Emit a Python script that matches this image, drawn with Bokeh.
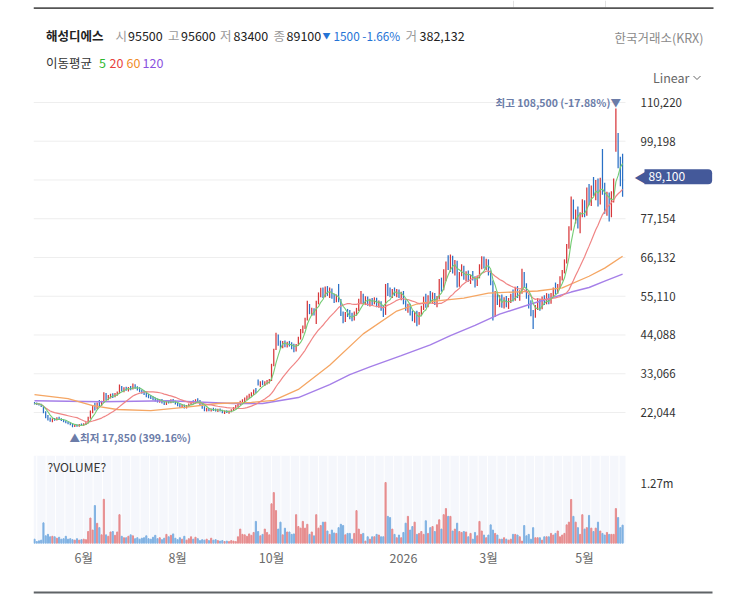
import numpy as np
import pandas as pd
from bokeh.plotting import figure
from bokeh.layouts import column
from bokeh.models import ColumnDataSource, Range1d, FixedTicker, NumeralTickFormatter, Label
from bokeh.core.properties import value
from bokeh.embed import file_html
from bokeh.resources import INLINE

FONT = "Noto Sans CJK KR"

# ---------------- data (prices in thousand KRW, volume in thousand shares) ----------------
open_k = [
    24.8, 24.6, 24.5, 24.3, 23.8, 22.1, 20.8, 20.2, 19.6, 20.1,
    20.0, 20.5, 20.2, 19.8, 19.5, 19.2, 18.9, 18.6, 18.2, 18.4,
    18.2, 18.6, 18.5, 18.8, 19.0, 20.5, 22.2, 23.6, 23.2, 24.6,
    24.2, 25.0, 27.2, 26.2, 26.6, 27.0, 26.7, 27.3, 27.7, 29.3,
    28.4, 28.9, 28.6, 29.0, 28.8, 29.8, 29.1, 28.7, 28.2, 27.7,
    27.4, 26.8, 26.5, 26.2, 25.8, 25.5, 25.2, 25.6, 24.9, 24.5,
    25.1, 25.0, 25.5, 25.1, 24.6, 24.1, 23.8, 24.1, 23.5, 24.0,
    24.4, 25.1, 24.8, 25.5, 25.3, 24.3, 23.4, 22.7, 23.1, 22.6,
    22.9, 22.8, 22.6, 22.9, 22.5, 22.1, 22.3, 22.0, 22.4, 22.8,
    23.3, 24.0, 24.5, 25.1, 25.4, 26.0, 26.5, 27.1, 27.3, 28.3,
    30.4, 29.9, 30.6, 30.1, 30.5, 30.9, 31.2, 35.4, 40.0, 43.6,
    41.6, 41.0, 41.9, 41.1, 41.8, 41.3, 40.5, 39.8, 41.2, 43.2,
    45.2, 46.2, 48.5, 52.6, 50.6, 51.2, 48.0, 53.2, 55.6, 56.8,
    55.2, 57.4, 55.8, 57.0, 54.9, 53.8, 55.2, 54.0, 50.2, 48.1,
    50.0, 49.8, 49.1, 48.5, 50.4, 51.2, 53.8, 55.0, 53.6, 54.6,
    53.0, 54.0, 53.2, 54.3, 52.5, 53.4, 51.4, 50.0, 57.8, 56.0,
    55.4, 56.8, 55.8, 56.6, 55.2, 55.9, 53.4, 51.6, 52.5, 50.2,
    48.6, 50.2, 47.4, 50.0, 51.8, 54.2, 52.5, 54.8, 53.8, 55.6,
    53.2, 54.8, 59.2, 57.2, 62.0, 64.2, 63.2, 66.2, 62.4, 64.6,
    58.6, 61.4, 63.4, 60.4, 61.8, 59.8, 60.8, 60.2, 58.4, 60.6,
    63.6, 65.2, 63.6, 64.8, 61.8, 58.8, 50.4, 55.6, 53.4, 54.8,
    52.4, 54.2, 52.6, 54.0, 55.2, 54.2, 57.2, 55.4, 56.2, 61.6,
    58.2, 55.0, 52.4, 50.2, 49.4, 52.0, 53.8, 51.8, 54.4, 53.2,
    55.4, 53.4, 55.6, 57.0, 56.2, 58.2, 60.2, 62.0, 64.8, 69.2,
    74.2, 82.0, 78.2, 79.2, 75.2, 78.4, 81.8, 78.6, 85.2, 82.4,
    85.8, 84.6, 87.4, 81.8, 87.6, 86.4, 80.0, 83.6, 78.4, 84.2,
    96.4, 101.0, 92.4, 95.5,
]
high_k = [
    25.0, 24.9, 24.7, 24.5, 23.9, 22.4, 21.3, 20.6, 20.4, 20.5,
    20.7, 20.8, 20.4, 20.1, 19.8, 19.5, 19.2, 18.9, 18.6, 18.7,
    18.8, 18.9, 19.0, 19.3, 20.8, 22.6, 24.2, 24.8, 24.9, 25.6,
    25.4, 27.8, 27.6, 27.0, 27.4, 27.5, 27.6, 28.0, 30.0, 29.6,
    29.2, 29.4, 29.3, 29.6, 30.3, 30.1, 29.5, 29.2, 28.6, 28.2,
    27.8, 27.3, 27.0, 26.7, 26.3, 26.0, 25.9, 25.9, 25.3, 25.4,
    25.6, 25.8, 25.9, 25.4, 24.9, 24.5, 24.4, 24.3, 24.2, 24.6,
    25.3, 25.5, 25.8, 26.1, 25.6, 24.6, 23.8, 23.4, 23.3, 23.2,
    23.4, 23.2, 23.1, 23.2, 22.8, 22.6, 22.7, 22.6, 23.0, 23.6,
    24.2, 24.8, 25.4, 25.8, 26.3, 26.9, 27.4, 27.8, 28.6, 29.0,
    31.4, 30.9, 31.2, 30.9, 31.3, 31.6, 35.9, 40.2, 44.7, 44.2,
    42.5, 42.4, 42.5, 42.2, 42.4, 42.0, 41.6, 41.5, 43.6, 45.8,
    46.8, 49.0, 53.8, 52.9, 51.8, 51.7, 53.8, 56.2, 57.5, 57.6,
    57.9, 58.0, 57.6, 57.3, 55.8, 55.6, 58.6, 54.3, 50.8, 50.6,
    51.5, 51.2, 50.4, 50.8, 51.8, 54.4, 56.6, 55.8, 55.1, 55.0,
    54.4, 54.6, 54.8, 54.7, 53.9, 53.7, 52.4, 58.6, 58.9, 57.6,
    57.2, 57.6, 57.2, 57.0, 56.4, 56.6, 54.0, 53.0, 53.0, 51.0,
    50.8, 51.0, 50.6, 52.4, 55.0, 55.8, 55.4, 56.6, 56.2, 56.0,
    55.2, 60.0, 60.4, 62.8, 65.0, 66.8, 67.0, 66.6, 65.4, 65.2,
    62.0, 64.2, 63.8, 62.2, 62.4, 61.2, 62.3, 60.8, 61.0, 64.2,
    66.5, 66.4, 65.8, 65.6, 62.4, 59.6, 56.6, 56.4, 55.4, 55.6,
    54.8, 55.2, 54.6, 55.8, 57.0, 57.8, 58.0, 56.8, 62.9, 62.0,
    58.8, 55.6, 54.0, 51.2, 52.6, 54.6, 54.4, 55.0, 55.4, 56.0,
    55.8, 56.0, 57.6, 59.0, 58.6, 60.8, 62.6, 65.6, 70.0, 75.0,
    83.5, 82.6, 79.8, 80.6, 79.0, 82.7, 82.4, 86.0, 87.0, 86.6,
    89.0, 88.2, 88.6, 88.8, 97.0, 87.4, 84.8, 84.6, 85.0, 88.6,
    108.5, 101.5, 94.8, 95.6,
]
low_k = [
    24.3, 24.2, 24.0, 23.6, 21.8, 20.4, 19.8, 19.4, 19.3, 19.7,
    19.8, 20.0, 19.6, 19.3, 19.0, 18.7, 18.4, 17.85, 17.9, 18.0,
    18.0, 18.2, 18.3, 18.5, 18.9, 20.3, 21.8, 22.6, 23.0, 23.8,
    23.9, 24.8, 25.6, 25.5, 26.0, 26.2, 26.4, 26.8, 27.4, 28.0,
    27.8, 28.2, 28.0, 28.4, 28.6, 28.8, 28.3, 27.9, 27.4, 27.0,
    26.4, 26.1, 25.9, 25.5, 25.2, 24.9, 24.8, 24.6, 24.2, 24.2,
    24.6, 24.7, 24.8, 24.3, 23.8, 23.4, 23.3, 23.2, 23.2, 23.7,
    24.2, 24.5, 24.6, 25.0, 24.0, 23.1, 22.4, 22.3, 22.4, 22.3,
    22.5, 22.3, 22.2, 22.3, 21.8, 21.6, 21.9, 21.7, 22.1, 22.5,
    23.0, 23.6, 24.1, 24.6, 25.0, 25.6, 26.0, 26.5, 27.0, 27.6,
    29.7, 29.3, 29.8, 29.6, 30.0, 30.3, 31.0, 35.2, 39.8, 41.0,
    40.2, 40.3, 40.6, 40.5, 40.8, 40.0, 39.2, 39.4, 41.0, 42.8,
    44.6, 45.8, 48.2, 50.0, 49.5, 49.6, 47.2, 52.8, 54.8, 54.6,
    54.8, 55.2, 54.6, 54.4, 53.2, 53.4, 53.4, 49.5, 47.4, 47.8,
    49.2, 48.6, 48.0, 48.2, 49.6, 50.9, 53.2, 53.0, 52.6, 52.4,
    52.2, 52.6, 52.8, 52.0, 51.8, 51.0, 49.2, 49.8, 55.2, 54.8,
    54.6, 55.2, 54.8, 54.6, 54.0, 52.8, 51.0, 50.4, 49.6, 48.0,
    47.6, 46.6, 47.0, 49.4, 51.2, 51.8, 52.0, 53.2, 53.0, 52.6,
    52.0, 54.2, 56.4, 56.8, 59.4, 62.6, 62.0, 61.6, 61.0, 57.6,
    57.8, 60.8, 59.8, 59.4, 59.2, 58.6, 59.6, 57.6, 58.0, 60.2,
    62.8, 63.0, 62.6, 61.0, 58.2, 48.2, 49.2, 52.6, 52.0, 51.8,
    51.6, 52.0, 51.5, 53.2, 53.6, 53.8, 54.6, 53.8, 55.8, 57.6,
    54.4, 51.6, 49.4, 45.8, 49.0, 51.2, 51.0, 51.4, 52.6, 52.8,
    52.8, 53.0, 54.8, 55.6, 55.8, 57.4, 59.6, 61.6, 64.4, 68.6,
    73.8, 77.0, 75.8, 74.4, 73.0, 77.6, 77.6, 78.0, 81.0, 80.8,
    83.6, 82.4, 80.6, 81.2, 84.0, 78.6, 78.0, 76.4, 77.6, 81.8,
    96.2, 91.5, 86.4, 83.4,
]
close_k = [
    24.6, 24.5, 24.3, 23.8, 22.1, 20.8, 20.2, 19.6, 20.1, 20.0,
    20.5, 20.2, 19.8, 19.5, 19.2, 18.9, 18.6, 18.2, 18.4, 18.2,
    18.6, 18.5, 18.8, 19.0, 20.5, 22.2, 23.6, 23.2, 24.6, 24.2,
    25.0, 27.2, 26.2, 26.6, 27.0, 26.7, 27.3, 27.7, 29.3, 28.4,
    28.9, 28.6, 29.0, 28.8, 29.8, 29.1, 28.7, 28.2, 27.7, 27.4,
    26.8, 26.5, 26.2, 25.8, 25.5, 25.2, 25.6, 24.9, 24.5, 25.1,
    25.0, 25.5, 25.1, 24.6, 24.1, 23.8, 24.1, 23.5, 24.0, 24.4,
    25.1, 24.8, 25.5, 25.3, 24.3, 23.4, 22.7, 23.1, 22.6, 22.9,
    22.8, 22.6, 22.9, 22.5, 22.1, 22.3, 22.0, 22.4, 22.8, 23.3,
    24.0, 24.5, 25.1, 25.4, 26.0, 26.5, 27.1, 27.3, 28.3, 28.1,
    29.9, 30.6, 30.1, 30.5, 30.9, 31.2, 35.4, 39.6, 43.6, 41.6,
    41.0, 41.9, 41.1, 41.8, 41.3, 40.5, 39.8, 41.2, 43.2, 45.2,
    46.2, 48.5, 52.6, 50.6, 51.2, 50.1, 53.2, 55.6, 56.8, 55.2,
    57.4, 55.8, 57.0, 54.9, 53.8, 55.2, 54.0, 50.2, 48.1, 50.0,
    49.8, 49.1, 48.5, 50.4, 51.2, 53.8, 55.0, 53.6, 54.6, 53.0,
    54.0, 53.2, 54.3, 52.5, 53.4, 51.4, 50.0, 57.8, 56.0, 55.4,
    56.8, 55.8, 56.6, 55.2, 55.9, 53.4, 51.6, 52.5, 50.2, 48.6,
    50.2, 47.4, 50.0, 51.8, 54.2, 52.5, 54.8, 53.8, 55.6, 53.2,
    54.8, 59.2, 57.2, 62.0, 64.2, 63.2, 66.2, 62.4, 64.6, 58.6,
    61.4, 63.4, 60.4, 61.8, 59.8, 60.8, 60.2, 58.4, 60.6, 63.6,
    65.2, 63.6, 64.8, 61.8, 58.8, 50.4, 55.6, 53.4, 54.8, 52.4,
    54.2, 52.6, 54.0, 55.2, 54.2, 57.2, 55.4, 56.2, 61.6, 58.2,
    55.0, 52.4, 50.2, 49.4, 52.0, 53.8, 51.8, 54.4, 53.2, 55.4,
    53.4, 55.6, 57.0, 56.2, 58.2, 60.2, 62.0, 64.8, 69.2, 74.2,
    82.0, 78.2, 79.2, 75.2, 78.4, 81.8, 78.6, 85.2, 82.4, 85.8,
    84.6, 87.4, 81.8, 87.6, 86.4, 80.0, 83.6, 78.4, 84.2, 87.6,
    104.4, 92.4, 90.6, 89.1,
]
volume_k = [
    90, 40, 55, 70, 430, 160, 190, 140, 150, 140,
    110, 130, 90, 100, 150, 90, 100, 80, 70, 100,
    70, 80, 90, 80, 250, 530, 280, 790, 420, 330,
    180, 920, 180, 150, 240, 250, 170, 240, 600, 150,
    120, 120, 150, 180, 160, 100, 120, 90, 110, 120,
    160, 100, 90, 130, 170, 100, 120, 80, 110, 190,
    140, 170, 200, 110, 80, 120, 90, 150, 70, 100,
    140, 90, 130, 100, 60, 80, 70, 90, 60, 110,
    70, 80, 60, 50, 60, 40, 50, 40, 60, 50,
    40, 140, 300, 190, 180, 150, 200, 170, 230, 460,
    250, 160, 190, 300, 230, 180, 826, 1060, 685, 300,
    445, 180, 318, 240, 240, 190, 200, 600, 353, 320,
    460, 320, 400, 190, 240, 160, 600, 320, 374, 445,
    445, 260, 190, 280, 220, 210, 330, 400, 374, 180,
    210, 210, 90, 210, 685, 300, 190, 210, 50, 140,
    90, 140, 140, 190, 176, 140, 140, 1270, 565, 540,
    300, 190, 120, 176, 120, 230, 423, 565, 280, 353,
    445, 190, 210, 250, 190, 473, 210, 330, 353, 250,
    390, 494, 300, 600, 727, 565, 565, 260, 300, 423,
    250, 230, 250, 240, 140, 210, 90, 230, 160, 460,
    260, 176, 120, 176, 388, 280, 210, 176, 90, 90,
    120, 90, 70, 90, 190, 190, 176, 140, 50, 374,
    160, 190, 90, 330, 120, 120, 120, 70, 140, 140,
    140, 210, 176, 210, 260, 140, 176, 210, 388, 445,
    917, 565, 445, 330, 190, 600, 300, 330, 585, 320,
    250, 320, 445, 260, 210, 176, 230, 190, 190, 190,
    727, 540, 330, 382.132,
]
ma60_index = [0, 15, 26, 37, 52, 67, 82, 97, 107, 118, 132, 147, 162, 171, 180, 192, 203, 214, 225, 236, 248, 255, 263]
ma60_k = [27.1, 26.0, 24.0, 22.9, 22.6, 23.5, 24.6, 24.9, 25.5, 28.6, 35.5, 44.4, 50.9, 52.9, 53.8, 54.6, 56.0, 56.3, 56.6, 57.5, 60.8, 63.1, 66.5]
ma120_index = [0, 30, 60, 89, 102, 118, 132, 141, 150, 164, 177, 186, 197, 208, 222, 231, 240, 248, 255, 263]
ma120_k = [25.4, 25.1, 25.4, 24.6, 24.6, 26.3, 30.0, 32.8, 35.0, 38.2, 41.3, 43.9, 46.8, 50.0, 52.9, 54.6, 56.3, 57.6, 59.4, 61.4]

month_tick_index = [22, 64, 106, 165, 203, 246]
month_tick_labels = ["6월", "8월", "10월", "2026", "3월", "5월"]
price_ticks = [22044, 33066, 44088, 55110, 66132, 77154, 88176, 99198, 110220]
volume_ticks = [1270000]
stock_name = "해성디에스"
exchange_name = "한국거래소(KRX)"

# ---------------- derived ----------------
o = np.array(open_k) * 1000
h = np.array(high_k) * 1000
l = np.array(low_k) * 1000
c = np.array(close_k) * 1000
vol = np.round(np.array(volume_k) * 1000)
n = len(c)
idx = np.arange(n)
up = c >= o
UP, DN = "#d7373a", "#2a71c6"
VUP, VDN = "#e68c8e", "#7fb1e2"
src = ColumnDataSource(dict(
    x=idx, o=o, h=h, l=l, c=c, vol=vol,
    color=[UP if u else DN for u in up],
    vcolor=[VUP if u else VDN for u in up],
))
ma5 = pd.Series(c).rolling(5, min_periods=1).mean().values
ma20 = pd.Series(c).rolling(20, min_periods=1).mean().values

# ---------------- geometry ----------------
W = 718
LEFT = 33                 # frame left edge (px)
PANE_R = 625              # right edge of the drawing panes (px)
X0, X1 = -0.45, 264.3     # bar index range across the panes
PX = (X1 - X0) / (PANE_R - LEFT)   # index units per pixel
XEND = X0 + (W - LEFT) * PX        # frames run to the right edge of the canvas


def xpix(px):
    return X0 + (px - LEFT) * PX


xr = Range1d(X0, XEND)
AXIS_STANDOFF = 640 - W   # labels sit left of the canvas edge, over the right gutter


def style_right_axis(a, size="11.5px"):
    a.axis_line_color = None
    a.major_tick_line_color = None
    a.minor_tick_line_color = None
    a.major_tick_out = 0
    a.major_tick_in = 0
    a.major_label_standoff = AXIS_STANDOFF
    a.major_label_text_font = FONT
    a.major_label_text_font_size = size
    a.major_label_text_color = "#333333"


# ---------------- header ----------------
hd = figure(width=W, height=95, x_range=Range1d(LEFT, W), y_range=Range1d(95, 0),
            x_axis_location=None, y_axis_location=None, min_border=0,
            min_border_left=LEFT, min_border_right=0,
            toolbar_location=None, output_backend="svg", title=None)
hd.grid.visible = False
hd.outline_line_color = None
hd.segment(x0=[513, 605], y0=[0, 0], x1=[513, 605], y1=[7, 7], line_color="#e2e2e2", line_width=1)
hd.line([LEFT, 713], [7.6, 7.6], line_color="#555555", line_width=1.6)


def htext(x, y, t, color="#222222", size="12.5px", style="normal", align="left"):
    hd.text(x=[x], y=[y], text=[t], text_color=color, text_font=value(FONT),
            text_font_size=size, text_font_style=style, text_align=align,
            text_baseline="middle")


chg = c[-1] - c[-2]
chg_pct = chg / c[-2] * 100
TY = 35
BLUE = "#2473d6"
htext(45.5, TY, stock_name, style="bold")
htext(115, TY, "시", color="#999999")
htext(127.5, TY, f"{round(o[-1]):d}")
htext(167.5, TY, "고", color="#999999")
htext(180.5, TY, f"{round(h[-1]):d}")
htext(219.5, TY, "저", color="#999999")
htext(233, TY, f"{round(l[-1]):d}")
htext(273, TY, "종", color="#999999")
htext(286, TY, f"{round(c[-1]):d}")
htext(322, TY, "▼", color=BLUE, size="8px")
htext(333, TY, f"{abs(round(chg)):d} {chg_pct:.2f}%", color=BLUE, size="11.8px")
htext(405, TY, "거", color="#999999")
htext(419, TY, f"{round(vol[-1]):,d}")
htext(703, 37, exchange_name, color="#8a8a8a", align="right")
MY = 62
htext(45.5, MY, "이동평균", color="#333333")
htext(98.5, MY, "5", color="#2eb82e")
htext(109, MY, "20", color="#e8413e")
htext(126, MY, "60", color="#f08c28")
htext(142, MY, "120", color="#8b52e0")
htext(652.5, 77, "Linear", color="#666666")
hd.line([693, 696.5, 700], [75.5, 79, 75.5], line_color="#666666", line_width=1)

# ---------------- price pane ----------------
p = figure(width=W, height=355, x_range=xr, y_range=Range1d(11237, 112199),
           output_backend="svg", toolbar_location=None, title=None,
           x_axis_location=None, y_axis_location="right",
           min_border_left=LEFT, min_border_right=0, min_border_top=0, min_border_bottom=0)
p.outline_line_color = None
p.grid.visible = False
ax = p.yaxis[0]
ax.ticker = FixedTicker(ticks=price_ticks)
ax.formatter = NumeralTickFormatter(format="0,0")
ax.major_label_overrides = {88176: ""}
style_right_axis(ax)

# horizontal guide lines at the axis ticks, limited to the pane
p.segment(x0=[X0] * len(price_ticks), y0=price_ticks, x1=[X1] * len(price_ticks), y1=price_ticks,
          line_color="#eeeeee", line_width=1)

p.segment(x0="x", y0="l", x1="x", y1="h", line_color="color", line_width=1.25, source=src)
p.line(ma120_index, np.array(ma120_k) * 1000, line_color="#a57fe8", line_width=1.4)
p.line(ma60_index, np.array(ma60_k) * 1000, line_color="#f5a663", line_width=1.3)
p.line(idx, ma20, line_color="#f08585", line_width=1.2)
p.line(idx, ma5, line_color="#74cc74", line_width=1.1)

ihi = int(np.argmax(h))
ilo = int(np.argmin(l))
hi_pct = (c[-1] / h[ihi] - 1) * 100
lo_pct = (c[-1] / l[ilo] - 1) * 100
LBL = "#6b7ca8"
p.text(x=[ihi], y=[h[ihi]], text=[f"최고 {h[ihi]:,.0f} ({hi_pct:.2f}%)▼"], text_align="right",
       text_baseline="middle", x_offset=5, y_offset=-6, text_font=value(FONT),
       text_font_size="10.5px", text_font_style="bold", text_color=LBL)
p.text(x=[ilo], y=[l[ilo]], text=[f"▲최저 {l[ilo]:,.0f} ({lo_pct:.2f}%)"], text_align="left",
       text_baseline="middle", x_offset=-3, y_offset=10, text_font=value(FONT),
       text_font_size="10.5px", text_font_style="bold", text_color=LBL)

BADGE = "#44599a"
p.add_layout(Label(x=xpix(640), y=c[-1], text="◀", text_color=BADGE, text_font=FONT,
                   text_font_size="13px", text_align="center", text_baseline="middle"))
p.add_layout(Label(x=xpix(644), y=c[-1], text=f"{c[-1]:,.0f}", text_color="white", text_font=FONT,
                   text_font_size="12px", text_align="left", text_baseline="middle",
                   background_fill_color=BADGE,
                   padding=dict(top=3, right=27, bottom=3, left=4),
                   border_radius=dict(top_left=0, top_right=4, bottom_right=4, bottom_left=0)))

# ---------------- volume pane ----------------
VTOP = 1.27e6 * 88 / 61
v = figure(width=W, height=133, x_range=xr, y_range=Range1d(0, VTOP),
           output_backend="svg", toolbar_location=None, title=None, y_axis_location="right",
           min_border_left=LEFT, min_border_right=0, min_border_top=5, min_border_bottom=40)
v.outline_line_color = None
v.grid.visible = False
v.quad(left=[X0], right=[X1], bottom=[0], top=[VTOP], fill_color="#f5f7fc", line_color=None)
stripes = np.arange(1.0, n, 4.2)
v.segment(x0=stripes, y0=0, x1=stripes, y1=VTOP, line_color="white", line_width=1)
v.vbar(x="x", top="vol", width=0.5, color="vcolor", source=src)
vax = v.yaxis[0]
vax.ticker = FixedTicker(ticks=volume_ticks)
vax.formatter = NumeralTickFormatter(format="0.00a")
style_right_axis(vax)
xax = v.xaxis[0]
xax.ticker = FixedTicker(ticks=month_tick_index)
xax.major_label_overrides = {i: t for i, t in zip(month_tick_index, month_tick_labels)}
xax.axis_line_color = None
xax.major_tick_line_color = None
xax.minor_tick_line_color = None
xax.major_tick_out = 0
xax.major_tick_in = 0
xax.major_label_standoff = 4
xax.major_label_text_font = FONT
xax.major_label_text_font_size = "12.5px"
xax.major_label_text_color = "#6a6a6a"
v.text(x=[xpix(47)], y=[1.6e6], text=["?VOLUME?"], text_align="left", text_baseline="middle",
       text_font=value(FONT), text_font_size="12px", text_color="#333333")

# ---------------- bottom rule ----------------
bt = figure(width=W, height=17, x_range=Range1d(LEFT, W), y_range=Range1d(600, 583),
            x_axis_location=None, y_axis_location=None, min_border=0,
            min_border_left=LEFT, min_border_right=0,
            toolbar_location=None, output_backend="svg", title=None)
bt.grid.visible = False
bt.outline_line_color = None
bt.line([LEFT, 712], [592, 592], line_color="#5f6366", line_width=1.8)

layout = column(hd, p, v, bt, spacing=0)
open("out.html", "w").write(file_html(layout, INLINE))
